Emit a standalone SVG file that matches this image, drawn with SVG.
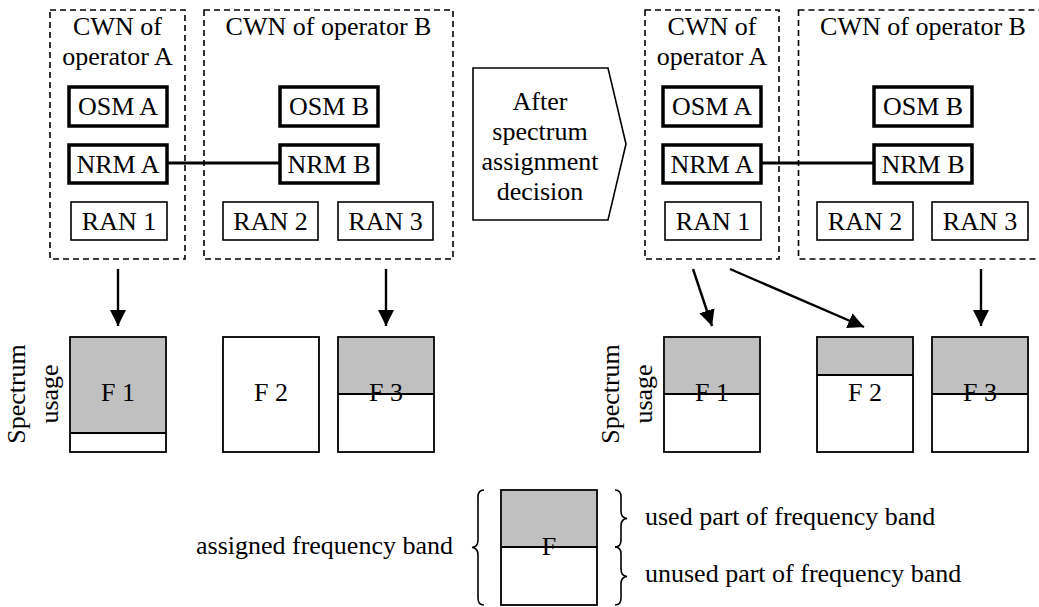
<svg xmlns="http://www.w3.org/2000/svg" width="1039" height="607" viewBox="0 0 1039 607">
  <defs>
    <style>
      text { font-family: "Liberation Serif", "Times New Roman", serif; font-size: 26px; fill: #000; }
      .mid { text-anchor: middle; }
      .end { text-anchor: end; }
      .cwn { fill: none; stroke: #000; stroke-width: 1.6; stroke-dasharray: 6 4; }
      .thick { fill: #fff; stroke: #000; stroke-width: 3.5; }
      .thin { fill: #fff; stroke: #000; stroke-width: 1.6; }
      .band { fill: #fff; stroke: #000; stroke-width: 1.8; }
      .used { fill: #c0c0c0; stroke: none; }
      .split { stroke: #000; stroke-width: 1.8; }
      .link { stroke: #000; stroke-width: 3.2; fill: none; }
      .arrow { stroke: #000; stroke-width: 2.4; fill: none; marker-end: url(#head); }
      .brace { fill: none; stroke: #000; stroke-width: 1.6; }
    </style>
    <marker id="head" markerUnits="userSpaceOnUse" markerWidth="16" markerHeight="16" refX="16" refY="8" orient="auto">
      <path d="M0,0 L16,8 L0,16 Z" fill="#000"/>
    </marker>
  </defs>

  <!-- Operator networks before the decision -->
  <g id="cwn-a-before">
    <rect class="cwn" x="50" y="10" width="135" height="249"/>
    <text class="mid" x="117.5" y="35">CWN of</text>
    <text class="mid" x="117.5" y="65">operator A</text>
  </g>
  <g id="cwn-b-before">
    <rect class="cwn" x="204" y="10" width="249" height="249"/>
    <text class="mid" x="328.5" y="35">CWN of operator B</text>
  </g>
  <g id="osm-a-before"><rect class="thick" x="69" y="87" width="98" height="39"/><text class="mid" x="118" y="115">OSM A</text></g>
  <g id="nrm-a-before"><rect class="thick" x="69" y="145" width="98" height="38"/><text class="mid" x="118" y="172.5">NRM A</text></g>
  <g id="ran1-before"><rect class="thin" x="71" y="202" width="96" height="38"/><text class="mid" x="119" y="229.5">RAN 1</text></g>
  <g id="osm-b-before"><rect class="thick" x="280" y="87" width="98" height="39"/><text class="mid" x="329" y="115">OSM B</text></g>
  <g id="nrm-b-before"><rect class="thick" x="280" y="145" width="98" height="38"/><text class="mid" x="329" y="172.5">NRM B</text></g>
  <g id="ran2-before"><rect class="thin" x="223" y="202" width="95" height="38"/><text class="mid" x="270.5" y="229.5">RAN 2</text></g>
  <g id="ran3-before"><rect class="thin" x="338" y="202" width="95" height="38"/><text class="mid" x="385.5" y="229.5">RAN 3</text></g>

  <!-- Decision step -->
  <g id="decision">
    <path class="thin" d="M473,68 L608,68 L626,144 L608,220 L473,220 Z"/>
    <text class="mid" x="540" y="110">After</text>
    <text class="mid" x="540" y="140">spectrum</text>
    <text class="mid" x="540" y="170">assignment</text>
    <text class="mid" x="540" y="200">decision</text>
  </g>

  <!-- Operator networks after the decision -->
  <g id="cwn-a-after">
    <rect class="cwn" x="645" y="10" width="134" height="249"/>
    <text class="mid" x="712" y="35">CWN of</text>
    <text class="mid" x="712" y="65">operator A</text>
  </g>
  <g id="cwn-b-after">
    <rect class="cwn" x="798.5" y="10" width="249" height="249"/>
    <text class="mid" x="923" y="35">CWN of operator B</text>
  </g>
  <g id="osm-a-after"><rect class="thick" x="663" y="87" width="98" height="39"/><text class="mid" x="712" y="115">OSM A</text></g>
  <g id="nrm-a-after"><rect class="thick" x="663" y="145" width="98" height="38"/><text class="mid" x="712" y="172.5">NRM A</text></g>
  <g id="ran1-after"><rect class="thin" x="665" y="202" width="96" height="38"/><text class="mid" x="713" y="229.5">RAN 1</text></g>
  <g id="osm-b-after"><rect class="thick" x="874" y="87" width="98" height="39"/><text class="mid" x="923" y="115">OSM B</text></g>
  <g id="nrm-b-after"><rect class="thick" x="874" y="145" width="98" height="38"/><text class="mid" x="923" y="172.5">NRM B</text></g>
  <g id="ran2-after"><rect class="thin" x="817" y="202" width="96" height="38"/><text class="mid" x="865" y="229.5">RAN 2</text></g>
  <g id="ran3-after"><rect class="thin" x="932" y="202" width="96" height="38"/><text class="mid" x="980" y="229.5">RAN 3</text></g>

  <!-- Spectrum usage, before -->
  <g id="usage-label-before">
    <text class="mid" transform="translate(25,394) rotate(-90)">Spectrum</text>
    <text class="mid" transform="translate(58,394) rotate(-90)">usage</text>
  </g>
  <g id="f1-before">
    <rect class="band" x="70" y="337" width="96" height="115"/>
    <rect class="used" x="71" y="338" width="94" height="95"/>
    <text class="mid" x="118" y="401">F 1</text>
    <line class="split" x1="70" y1="433" x2="166" y2="433"/>
  </g>
  <g id="f2-before">
    <rect class="band" x="223" y="337" width="96" height="115"/>
    <text class="mid" x="271" y="401">F 2</text>
  </g>
  <g id="f3-before">
    <rect class="band" x="338" y="337" width="96" height="115"/>
    <rect class="used" x="339" y="338" width="94" height="56"/>
    <text class="mid" x="386" y="401">F 3</text>
    <line class="split" x1="338" y1="394" x2="434" y2="394"/>
  </g>

  <!-- Spectrum usage, after -->
  <g id="usage-label-after">
    <text class="mid" transform="translate(619,394) rotate(-90)">Spectrum</text>
    <text class="mid" transform="translate(652,394) rotate(-90)">usage</text>
  </g>
  <g id="f1-after">
    <rect class="band" x="664" y="337" width="96" height="115"/>
    <rect class="used" x="665" y="338" width="94" height="56"/>
    <text class="mid" x="712" y="401">F 1</text>
    <line class="split" x1="664" y1="394" x2="760" y2="394"/>
  </g>
  <g id="f2-after">
    <rect class="band" x="817" y="337" width="96" height="115"/>
    <rect class="used" x="818" y="338" width="94" height="37"/>
    <text class="mid" x="865" y="401">F 2</text>
    <line class="split" x1="817" y1="375" x2="913" y2="375"/>
  </g>
  <g id="f3-after">
    <rect class="band" x="932" y="337" width="96" height="115"/>
    <rect class="used" x="933" y="338" width="94" height="56"/>
    <text class="mid" x="980" y="401">F 3</text>
    <line class="split" x1="932" y1="394" x2="1028" y2="394"/>
  </g>

  <!-- Legend -->
  <g id="legend">
    <rect class="band" x="501" y="490" width="96" height="115"/>
    <rect class="used" x="502" y="491" width="94" height="56"/>
    <text class="mid" x="549" y="555">F</text>
    <line class="split" x1="501" y1="547" x2="597" y2="547"/>
    <path class="brace" d="M484,490 Q478,490 478,497 L478,540 Q478,547 472,547.5 Q478,548 478,555 L478,598 Q478,605 484,605"/>
    <text class="end" x="453" y="554">assigned frequency band</text>
    <path class="brace" d="M615,490 Q621,490 621,497 L621,511 Q621,518 627,518.5 Q621,519 621,526 L621,540 Q621,547 615,547"/>
    <path class="brace" d="M615,547 Q621,547 621,554 L621,569 Q621,576 627,576.5 Q621,577 621,584 L621,598 Q621,605 615,605"/>
    <text x="645" y="525">used part of frequency band</text>
    <text x="645" y="582">unused part of frequency band</text>
  </g>

  <!-- Connectors -->
  <g id="connectors">
    <line class="link" x1="167" y1="163" x2="280" y2="163"/>
    <line class="link" x1="761" y1="163" x2="874" y2="163"/>
    <line class="arrow" x1="118" y1="269" x2="118" y2="326"/>
    <line class="arrow" x1="386" y1="269" x2="386" y2="326"/>
    <line class="arrow" x1="693" y1="269" x2="712" y2="326"/>
    <line class="arrow" x1="730" y1="269" x2="864" y2="327"/>
    <line class="arrow" x1="981" y1="269" x2="981" y2="326"/>
  </g>
</svg>
